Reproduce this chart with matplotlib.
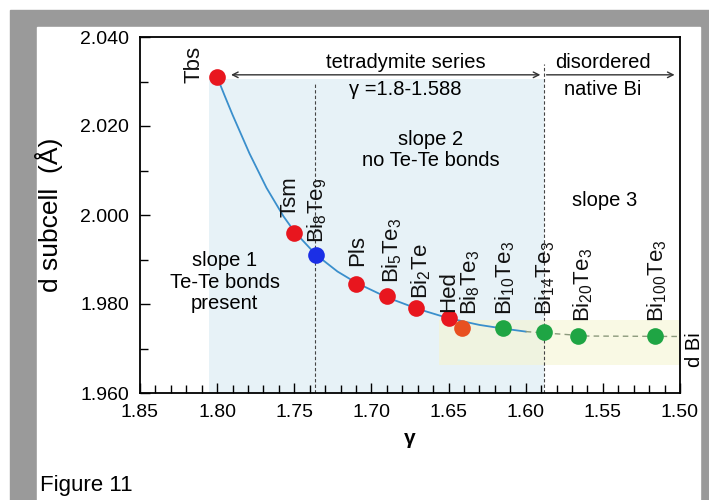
import matplotlib
matplotlib.use("Agg")
import matplotlib.pyplot as plt
from matplotlib.patches import Rectangle
from matplotlib.ticker import MultipleLocator, FormatStrFormatter

plt.rcParams['font.family'] = ['Liberation Sans', 'DejaVu Sans']
plt.rcParams['mathtext.fontset'] = 'custom'
plt.rcParams['mathtext.rm'] = 'Liberation Sans'
plt.rcParams['mathtext.it'] = 'Liberation Sans:italic'
plt.rcParams['mathtext.default'] = 'regular'

# phases: gamma, d subcell (Å), label
names = ['Tbs', 'Tsm', 'Bi$_8$Te$_9$', 'Pls', 'Bi$_5$Te$_3$', 'Bi$_2$Te', 'Hed',
         'Bi$_8$Te$_3$', 'Bi$_{10}$Te$_3$', 'Bi$_{14}$Te$_3$', 'Bi$_{20}$Te$_3$',
         'Bi$_{100}$Te$_3$']
gamma = [1.800, 1.750, 1.736, 1.710, 1.690, 1.671, 1.650, 1.641, 1.615, 1.588, 1.566, 1.516]
dsub = [2.031, 1.996, 1.991, 1.9846, 1.9818, 1.9790, 1.9768, 1.9745, 1.9745, 1.9738, 1.9727, 1.9727]
kind = ['red', 'red', 'blue', 'red', 'red', 'red', 'red', 'orange',
        'green', 'green', 'green', 'green']

# fitted curve
fit_g = [1.800, 1.795, 1.790, 1.779, 1.768, 1.757, 1.750, 1.736, 1.722, 1.710, 1.690,
         1.670, 1.650, 1.630, 1.615, 1.600]
fit_d = [2.031, 2.0267, 2.0225, 2.0138, 2.0061, 1.9997, 1.9963, 1.9911, 1.9873, 1.9848,
         1.9815, 1.9789, 1.9768, 1.9753, 1.9745, 1.9738]
# d of native Bi (dashed)
dbi_g = [1.600, 1.560, 1.500]
dbi_d = [1.9738, 1.9728, 1.9727]

colors = {'red': '#e8161e', 'blue': '#1b2fe6', 'orange': '#e85020', 'green': '#1fa544'}
# label offsets in pixels (dx, dy of text bottom above the point)
lab_off = [(-13, -6), (-4, 16), (1, 12), (2, 18), (5, 13), (5, 9), (0, 6),
           (8, 13), (3, 13), (1, 17), (5, 14), (2, 14)]

fig = plt.figure(figsize=(7.09, 5.00), dpi=100)
fig.patches.append(Rectangle((10 / 709, 0), 1, 1 - 10 / 500, transform=fig.transFigure,
                             color='#9a9a9a', zorder=-10))
fig.patches.append(Rectangle((37 / 709, 0), 663 / 709, 1 - 27 / 500, transform=fig.transFigure,
                             color='white', zorder=-9))

ax = fig.add_axes([140 / 709, 1 - 393 / 500, 540 / 709, 356 / 500])
ax.set_xlim(1.85, 1.50)
ax.set_ylim(1.960, 2.040)

# shaded regions
ax.add_patch(Rectangle((1.588, 1.960), 0.217, 0.0705, color='#e7f2f7', lw=0, zorder=0))
ax.add_patch(Rectangle((1.50, 1.9663), 0.156, 0.0100, color='#f6f5d2', alpha=0.6, lw=0, zorder=0.5))

for g, top in [(1.7365, 2.0295), (1.588, 2.034)]:
    ax.plot([g, g], [1.960, top], ls=(0, (3, 2)), color='#444444', lw=0.8, zorder=1)

ax.plot(fit_g, fit_d, color='#3a8fcc', lw=1.3, zorder=2)
ax.plot(dbi_g, dbi_d, ls=(0, (4, 3)), color='#8c9a7c', lw=1.0, zorder=2)

for g, d, k, n, (dx, dy) in zip(gamma, dsub, kind, names, lab_off):
    ax.plot(g, d, 'o', ms=12, color=colors[k], mec='none', zorder=3)
    ha = 'right' if n == 'Tbs' else 'center'
    ax.annotate(n, (g, d), xytext=(dx, dy), textcoords='offset pixels', rotation=90,
                ha=ha, va='bottom', fontsize=16, color='#111111', zorder=4)

# arrows and annotations
ax.annotate('', xy=(1.5905, 2.0315), xytext=(1.791, 2.0315),
            arrowprops=dict(arrowstyle='<->', color='#333333', lw=1.0, shrinkA=0, shrinkB=0))
ax.annotate('', xy=(1.5035, 2.0315), xytext=(1.5865, 2.0315),
            arrowprops=dict(arrowstyle='->', color='#333333', lw=1.0, shrinkA=0, shrinkB=0))
ax.text(1.678, 2.0343, 'tetradymite series', ha='center', va='center', fontsize=14.5)
ax.text(1.678, 2.0283, 'γ =1.8-1.588', ha='center', va='center', fontsize=14.5)
ax.text(1.550, 2.0343, 'disordered', ha='center', va='center', fontsize=14.5)
ax.text(1.550, 2.0281, 'native Bi', ha='center', va='center', fontsize=14.5)
ax.text(1.6614, 2.0146, 'slope 2\nno Te-Te bonds', ha='center', va='center',
        fontsize=14.5, linespacing=1.15)
ax.text(1.795, 1.9849, 'slope 1\nTe-Te bonds\npresent', ha='center', va='center',
        fontsize=14.5, linespacing=1.15)
ax.text(1.5487, 2.0033, 'slope 3', ha='center', va='center', fontsize=14.5)
ax.text(1.4905, 1.9697, 'd Bi', rotation=90, ha='center', va='center', fontsize=14.5,
        clip_on=False)

# axes styling
ax.xaxis.set_major_locator(MultipleLocator(0.05))
ax.xaxis.set_minor_locator(MultipleLocator(0.01))
ax.yaxis.set_major_locator(MultipleLocator(0.02))
ax.yaxis.set_minor_locator(MultipleLocator(0.01))
ax.xaxis.set_major_formatter(FormatStrFormatter('%.2f'))
ax.yaxis.set_major_formatter(FormatStrFormatter('%.3f'))
ax.tick_params(axis='both', which='both', direction='in', labelsize=14, pad=8,
               top=False, right=False, width=1.0)
ax.tick_params(which='major', length=7)
ax.tick_params(which='minor', length=6)
for s in ax.spines.values():
    s.set_linewidth(1.3)

ax.set_ylabel('d subcell  (Å)', fontsize=19, labelpad=12)
ax.set_xlabel('γ', fontsize=15, fontweight='bold', labelpad=6)

fig.text(40 / 709, 1 - 485 / 500, 'Figure 11', fontsize=16, ha='left', va='center')

fig.savefig('out.png', dpi=100)
